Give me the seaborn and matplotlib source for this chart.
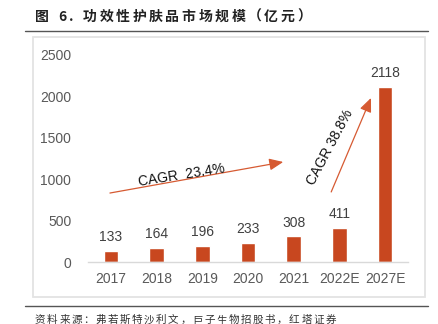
import matplotlib
matplotlib.use("Agg")
import matplotlib.pyplot as plt
from matplotlib.patches import Rectangle
from matplotlib.lines import Line2D
import seaborn as sns
import pandas as pd

# Market size of functional skincare (100 million yuan)
years = ["2017", "2018", "2019", "2020", "2021", "2022E", "2027E"]
sizes = [133, 164, 196, 233, 308, 411, 2118]
y_ticks = [0, 500, 1000, 1500, 2000, 2500]
cagr_labels = ["CAGR  23.4%", "CAGR 38.8%"]

title = "图 6. 功效性护肤品市场规模（亿元）"
source = "资料来源：弗若斯特沙利文，巨子生物招股书，红塔证券"

bar_color = "#C8471F"
arrow_color = "#D65A32"

sns.set_theme(style="white")
plt.rcParams["font.family"] = ["Liberation Sans", "Noto Sans CJK SC", "DejaVu Sans"]

df = pd.DataFrame({"year": years, "size": sizes})

fig = plt.figure(figsize=(4.38, 3.24), dpi=100)
ax = fig.add_axes([88 / 438, 1 - 262 / 324, 320 / 438, 207 / 324])

sns.barplot(data=df, x="year", y="size", color=bar_color, saturation=1,
            width=0.32, ax=ax)

ax.set_ylim(0, 2500)
ax.set_xlim(-0.5, 6.5)
ax.set_yticks(y_ticks)
ax.set_xlabel("")
ax.set_ylabel("")
for s in ["top", "right", "left"]:
    ax.spines[s].set_visible(False)
ax.spines["bottom"].set_color("#d9d9d9")
ax.spines["bottom"].set_linewidth(1.0)
ax.tick_params(axis="both", length=0, labelsize=10, colors="#595959")
ax.tick_params(axis="y", pad=12)
ax.tick_params(axis="x", pad=7)

# value labels above bars
for i, v in enumerate(sizes):
    ax.annotate(str(v), (i, v), xytext=(0, 5), textcoords="offset points",
                ha="center", va="bottom", fontsize=10, color="#404040")

# CAGR arrows
arrow_kw = dict(arrowstyle="-|>,head_length=0.7,head_width=0.3",
                color=arrow_color, lw=0.9, shrinkA=0, shrinkB=0)
ax.annotate("", xy=(3.77, 1208), xytext=(-0.02, 833), arrowprops=arrow_kw)
ax.annotate("", xy=(5.69, 1981), xytext=(4.82, 846), arrowprops=arrow_kw)
ax.text(1.55, 1045, cagr_labels[0], rotation=9, ha="center", va="center",
        fontsize=10, color="#111111", rotation_mode="anchor")
ax.text(4.80, 1390, cagr_labels[1], rotation=62, ha="center", va="center",
        fontsize=10, color="#111111", rotation_mode="anchor")


def spaced_text(x_px, y_px, s, spacing_px, **kw):
    """Write a string one character at a time with extra tracking (pixels)."""
    renderer = fig.canvas.get_renderer()
    x = x_px
    for ch in s:
        t = fig.text(x / 438, 1 - y_px / 324, ch, ha="left", va="center", **kw)
        w = t.get_window_extent(renderer=renderer).width
        if ch == " ":
            w = kw.get("fontsize", 10) * 100 / 72 * 0.3
        x += w + spacing_px


cjk = ["Noto Sans CJK SC", "DejaVu Sans"]
spaced_text(35, 17, title, 2.6, fontsize=10, fontweight="bold",
            color="#222222", family=cjk)
spaced_text(35, 320, source, 1.6, fontsize=7.6, color="#333333", family=cjk)

# page rules and chart frame
fig.add_artist(Line2D([25 / 438, 428 / 438], [1 - 31 / 324] * 2,
                      color="#555555", lw=1.0, transform=fig.transFigure))
fig.add_artist(Line2D([25 / 438, 428 / 438], [1 - 306 / 324] * 2,
                      color="#555555", lw=1.0, transform=fig.transFigure))
fig.add_artist(Rectangle((33 / 438, 1 - 297 / 324), 392 / 438, 260 / 324,
                         fill=False, edgecolor="#e3e3e3", lw=1.3,
                         transform=fig.transFigure))

fig.savefig("out.png", dpi=100)
